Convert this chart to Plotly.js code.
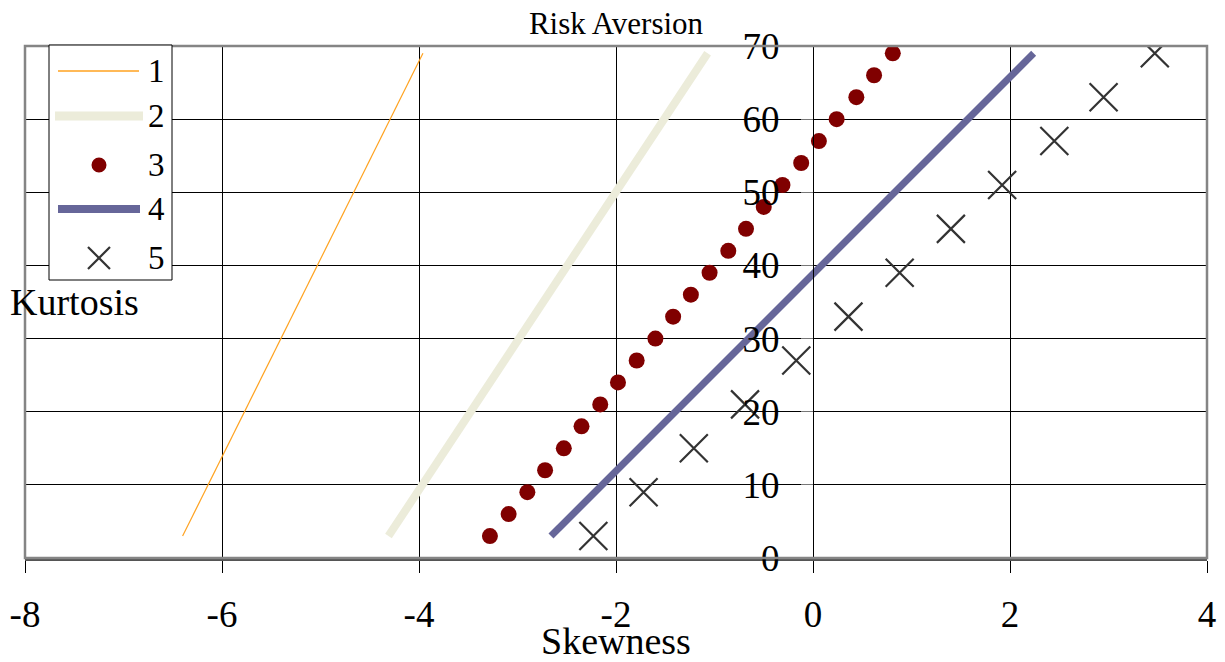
<!DOCTYPE html>
<html>
<head>
<meta charset="utf-8">
<script src="https://cdn.plot.ly/plotly-3.0.1.min.js"></script>
<style>
  html, body { margin: 0; padding: 0; background: #ffffff; }
  #chart { width: 1225px; height: 662px; }
</style>
</head>
<body>
<div id="chart"></div>
<script>
// Kurtosis against skewness for five levels of risk aversion
const seriesNames = ["1", "2", "3", "4", "5"];

// Series 1 and 2: straight frontiers
const s1Skew = [-6.40, -5.18, -3.96];
const s1Kurt = [3, 36, 69];
const s2Skew = [-4.31, -2.69, -1.07];
const s2Kurt = [3, 36, 69];

// Series 3: dots every 3 units of kurtosis
const s3Skew = [-3.28, -3.09, -2.90, -2.72, -2.53, -2.35, -2.16, -1.98, -1.79, -1.60, -1.42, -1.24,
                -1.05, -0.86, -0.68, -0.50, -0.31, -0.12, 0.06, 0.24, 0.44, 0.62, 0.81];
const s3Kurt = [3, 6, 9, 12, 15, 18, 21, 24, 27, 30, 33, 36, 39, 42, 45, 48, 51, 54, 57, 60, 63, 66, 69];

// Series 4: thick line
const s4Skew = [-2.66, -0.21, 2.24];
const s4Kurt = [3, 36, 69];

// Series 5: crosses every 6 units of kurtosis
const s5Skew = [-2.23, -1.72, -1.21, -0.69, -0.17, 0.36, 0.88, 1.40, 1.92, 2.45, 2.95, 3.47];
const s5Kurt = [3, 9, 15, 21, 27, 33, 39, 45, 51, 57, 63, 69];

const xTicks = [-8, -6, -4, -2, 0, 2, 4];
const yTicks = [0, 10, 20, 30, 40, 50, 60, 70];

const serif = "Liberation Serif, Times New Roman, serif";

const colors = ["#FFA21F", "#ECECDA", "#800000", "#666699", "#333333"];

const traces = [
  { x: s1Skew, y: s1Kurt, name: seriesNames[0], mode: "lines",
    line: { color: colors[0], width: 1.2 } },
  { x: s2Skew, y: s2Kurt, name: seriesNames[1], mode: "lines",
    line: { color: colors[1], width: 8 } },
  { x: s3Skew, y: s3Kurt, name: seriesNames[2], mode: "markers",
    marker: { color: colors[2], size: 16, symbol: "circle" } },
  { x: s4Skew, y: s4Kurt, name: seriesNames[3], mode: "lines",
    line: { color: colors[3], width: 7 } },
  { x: s5Skew, y: s5Kurt, name: seriesNames[4], mode: "markers",
    marker: { color: colors[4], size: 28, symbol: "x-thin-open",
              line: { color: colors[4], width: 2.2 } } }
];

// Plot area in pixels
const W = 1225, H = 662;
const plotL = 25, plotR = 1207, plotT = 46, plotB = 558;
const px = v => (v - plotL) / (plotR - plotL);
const py = v => (plotB - v) / (plotB - plotT);

// Hand-built legend box in the upper left corner
const shapes = [
  { type: "rect", xref: "paper", yref: "paper", x0: 0, x1: 1, y0: 0, y1: 1,
    line: { color: "#858585", width: 2.5 }, layer: "above" },
  { type: "rect", xref: "paper", yref: "paper",
    x0: px(49), x1: px(172), y0: py(280), y1: py(45),
    fillcolor: "#ffffff", line: { color: "#000000", width: 1 }, layer: "above" }
];
const legendRows = [71, 116, 165, 209, 258];
shapes.push({ type: "line", xref: "paper", yref: "paper", layer: "above",
  x0: px(58), x1: px(139), y0: py(legendRows[0]), y1: py(legendRows[0]),
  line: { color: colors[0], width: 1.5 } });
shapes.push({ type: "line", xref: "paper", yref: "paper", layer: "above",
  x0: px(55), x1: px(143), y0: py(legendRows[1]), y1: py(legendRows[1]),
  line: { color: colors[1], width: 9 } });
shapes.push({ type: "circle", xref: "paper", yref: "paper", layer: "above",
  x0: px(91.5), x1: px(106.5), y0: py(legendRows[2] + 7.5), y1: py(legendRows[2] - 7.5),
  fillcolor: colors[2], line: { color: colors[2], width: 0 } });
shapes.push({ type: "line", xref: "paper", yref: "paper", layer: "above",
  x0: px(58), x1: px(140), y0: py(legendRows[3]), y1: py(legendRows[3]),
  line: { color: colors[3], width: 8 } });
shapes.push({ type: "line", xref: "paper", yref: "paper", layer: "above",
  x0: px(88), x1: px(110), y0: py(legendRows[4] - 11), y1: py(legendRows[4] + 11),
  line: { color: colors[4], width: 2.2 } });
shapes.push({ type: "line", xref: "paper", yref: "paper", layer: "above",
  x0: px(88), x1: px(110), y0: py(legendRows[4] + 11), y1: py(legendRows[4] - 11),
  line: { color: colors[4], width: 2.2 } });

const annotations = legendRows.map((r, i) => ({
  xref: "paper", yref: "paper", x: px(146), y: py(r), xanchor: "left", yanchor: "middle",
  text: seriesNames[i], showarrow: false, font: { family: serif, size: 33, color: "#000" }
}));
annotations.push({
  xref: "paper", yref: "paper", x: px(8), y: py(302), xanchor: "left", yanchor: "middle",
  text: "Kurtosis", showarrow: false, font: { family: serif, size: 38, color: "#000" }
});
annotations.push({
  xref: "paper", yref: "paper", x: 0.5, y: py(641), xanchor: "center", yanchor: "middle",
  text: "Skewness", showarrow: false, font: { family: serif, size: 38, color: "#000" }
});

const layout = {
  width: W, height: H,
  margin: { l: plotL, r: W - plotR, t: plotT, b: H - plotB, pad: 0 },
  paper_bgcolor: "#ffffff", plot_bgcolor: "#ffffff",
  showlegend: false,
  title: { text: "Risk Aversion", font: { family: serif, size: 31, color: "#000" },
           xref: "paper", x: 0.5, xanchor: "center",
           yref: "container", y: 1 - 23 / H, yanchor: "middle" },
  xaxis: {
    range: [-8, 4], tickvals: xTicks, ticktext: xTicks.map(String),
    showgrid: true, gridcolor: "#000000", gridwidth: 1, zeroline: false,
    showline: true, linecolor: "#555555", linewidth: 2.5,
    ticks: "outside", ticklen: 12, tickcolor: "#000000", tickwidth: 1,
    ticklabelstandoff: 10,
    tickfont: { family: serif, size: 37, color: "#000" }
  },
  yaxis: {
    range: [0, 70], tickvals: yTicks, ticktext: yTicks.map(String),
    anchor: "free", position: 8 / 12,
    showgrid: true, gridcolor: "#000000", gridwidth: 1, zeroline: false,
    showline: true, linecolor: "#000000", linewidth: 1,
    ticks: "outside", ticklen: 12, tickcolor: "#777777", tickwidth: 1,
    ticklabelstandoff: 14,
    tickfont: { family: serif, size: 37, color: "#000" }
  },
  shapes: shapes,
  annotations: annotations
};

Plotly.newPlot("chart", traces, layout, { displayModeBar: false, staticPlot: true });
</script>
</body>
</html>
